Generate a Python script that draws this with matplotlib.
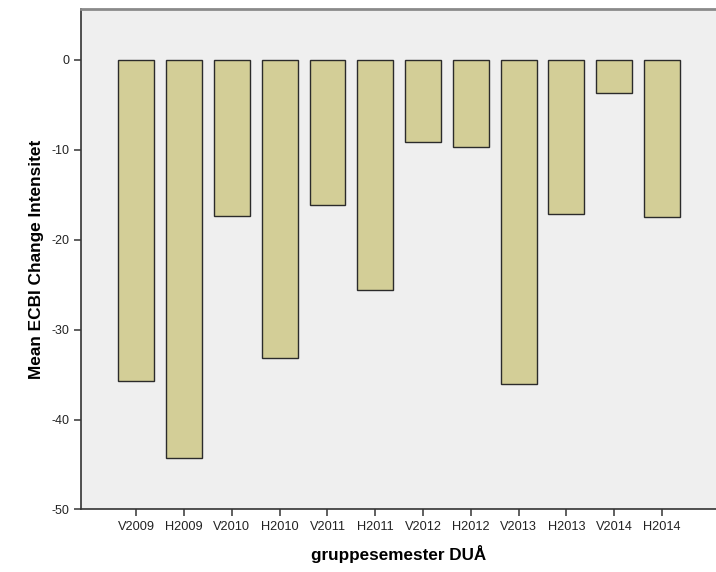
import matplotlib
matplotlib.use("Agg")
import matplotlib.pyplot as plt

# Dati
semestri = ["V2009", "H2009", "V2010", "H2010", "V2011", "H2011",
            "V2012", "H2012", "V2013", "H2013", "V2014", "H2014"]
vertibas = [-35.7, -44.3, -17.4, -33.2, -16.2, -25.6,
            -9.1, -9.7, -36.1, -17.1, -3.7, -17.5]
y_ticki = [0, -10, -20, -30, -40, -50]

plt.rcParams["font.family"] = ["Liberation Sans", "DejaVu Sans"]

fig = plt.figure(figsize=(7.16, 5.72), dpi=100)
ax = fig.add_axes([0.1131, 0.1093, 0.8869, 0.8744])
ax.set_facecolor("#EFEFEF")

x = list(range(len(semestri)))
ax.bar(x, vertibas, width=0.75, color="#D3CE97", edgecolor="#2b2b2b",
       linewidth=1.0, zorder=2)

ax.set_xlim(-1.157, 12.13)
ax.set_ylim(-50, 5.6)
ax.set_xticks(x)
ax.set_xticklabels(semestri, fontsize=9.2, color="#222222")
ax.set_yticks(y_ticki)
ax.set_yticklabels([str(v) for v in y_ticki], fontsize=9, color="#222222")

# Asis un ramis
for puse in ["left", "bottom"]:
    ax.spines[puse].set_color("#333333")
    ax.spines[puse].set_linewidth(1.2)
ax.spines["top"].set_color("#8a8a8a")
ax.spines["top"].set_linewidth(2)
ax.spines["right"].set_visible(False)
ax.tick_params(axis="both", direction="out", length=5, width=1.2, color="#444444", pad=3)

ax.set_xlabel("gruppesemester DUÅ", fontsize=12.3, fontweight="bold", labelpad=9)
ax.set_ylabel("Mean ECBI Change Intensitet", fontsize=12.4, fontweight="bold", labelpad=6)

fig.savefig("out.png", dpi=100)
